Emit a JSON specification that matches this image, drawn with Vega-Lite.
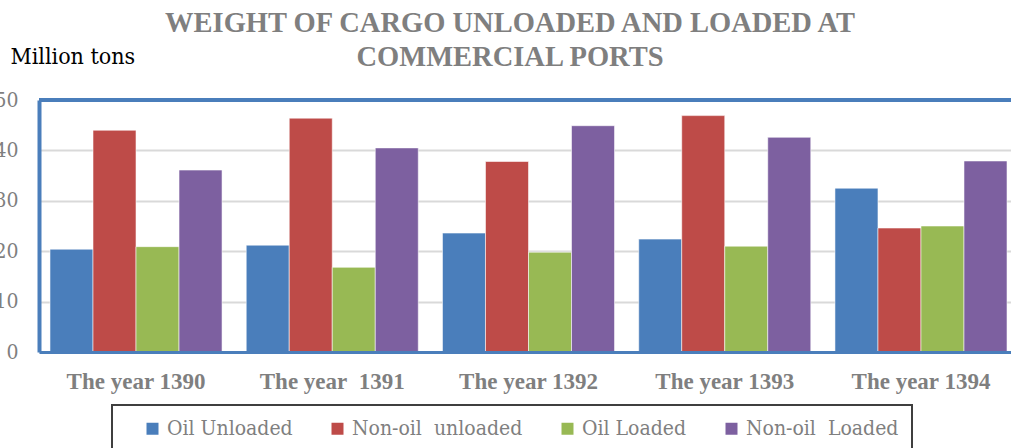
{
  "$schema": "https://vega.github.io/schema/vega-lite/v6.json",
  "autosize": {"type": "none"},
  "width": 972,
  "height": 252,
  "padding": {"left": 39, "top": 100, "right": 0, "bottom": 96},
  "background": "white",
  "title": {
    "text": ["WEIGHT OF CARGO UNLOADED AND LOADED AT", "COMMERCIAL PORTS"],
    "font": "Liberation Serif",
    "fontSize": 28.5,
    "fontWeight": "bold",
    "color": "#7f7f7f",
    "lineHeight": 34,
    "anchor": "middle",
    "dx": -15,
    "offset": -26.5
  },
  "config": {
    "view": {"stroke": null},
    "legend": {"strokeColor": "#3f3f3f", "strokeWidth": 2}
  },
  "data": {
    "values": [
      {"year": "The year 1390", "series": "Oil Unloaded", "value": 20.4},
      {"year": "The year 1390", "series": "Non-oil\u00a0 unloaded", "value": 44.0},
      {"year": "The year 1390", "series": "Oil Loaded", "value": 20.9},
      {"year": "The year 1390", "series": "Non-oil\u00a0 Loaded", "value": 36.1},
      {"year": "The year\u00a0 1391", "series": "Oil Unloaded", "value": 21.2},
      {"year": "The year\u00a0 1391", "series": "Non-oil\u00a0 unloaded", "value": 46.4},
      {"year": "The year\u00a0 1391", "series": "Oil Loaded", "value": 16.8},
      {"year": "The year\u00a0 1391", "series": "Non-oil\u00a0 Loaded", "value": 40.5},
      {"year": "The year 1392", "series": "Oil Unloaded", "value": 23.6},
      {"year": "The year 1392", "series": "Non-oil\u00a0 unloaded", "value": 37.8},
      {"year": "The year 1392", "series": "Oil Loaded", "value": 19.8},
      {"year": "The year 1392", "series": "Non-oil\u00a0 Loaded", "value": 44.9},
      {"year": "The year 1393", "series": "Oil Unloaded", "value": 22.4},
      {"year": "The year 1393", "series": "Non-oil\u00a0 unloaded", "value": 46.9},
      {"year": "The year 1393", "series": "Oil Loaded", "value": 21.0},
      {"year": "The year 1393", "series": "Non-oil\u00a0 Loaded", "value": 42.6},
      {"year": "The year 1394", "series": "Oil Unloaded", "value": 32.5},
      {"year": "The year 1394", "series": "Non-oil\u00a0 unloaded", "value": 24.6},
      {"year": "The year 1394", "series": "Oil Loaded", "value": 25.0},
      {"year": "The year 1394", "series": "Non-oil\u00a0 Loaded", "value": 37.9}
    ]
  },
  "encoding": {
    "y": {
      "type": "quantitative",
      "scale": {"domain": [0, 50], "nice": false, "zero": true},
      "axis": {
        "values": [0, 10, 20, 30, 40, 50],
        "grid": true,
        "gridColor": "#d9d9d9",
        "gridWidth": 2,
        "domain": true,
        "domainColor": "#4a7ebb",
        "domainWidth": 4,
        "ticks": false,
        "labelFont": "DejaVu Serif Condensed",
        "labelFontSize": 21,
        "labelColor": "#7f7f7f",
        "labelPadding": 21,
        "title": "Million tons",
        "titleAngle": 0,
        "titleAlign": "left",
        "titleBaseline": "alphabetic",
        "titleX": -29,
        "titleY": -37,
        "titleFont": "DejaVu Serif Condensed",
        "titleFontSize": 23,
        "titleFontWeight": "normal",
        "titleColor": "#000000"
      }
    }
  },
  "layer": [
    {
      "mark": {"type": "bar", "stroke": "#ffffff", "strokeWidth": 1, "strokeOpacity": 0.55},
      "encoding": {
        "x": {
          "field": "year",
          "type": "nominal",
          "sort": null,
          "scale": {"range": [0, 979], "paddingInner": 0.1233, "paddingOuter": 0.056},
          "axis": {
            "title": null,
            "ticks": false,
            "labelAngle": 0,
            "labelFont": "Liberation Serif",
            "labelFontSize": 23,
            "labelFontWeight": "bold",
            "labelColor": "#7f7f7f",
            "labelPadding": 18,
            "domainColor": "#4a7ebb",
            "domainWidth": 3,
            "zindex": 1
          }
        },
        "xOffset": {
          "field": "series",
          "type": "nominal",
          "sort": ["Oil Unloaded", "Non-oil\u00a0 unloaded", "Oil Loaded", "Non-oil\u00a0 Loaded"],
          "scale": {"paddingInner": 0, "paddingOuter": 0}
        },
        "y": {"field": "value"},
        "color": {
          "field": "series",
          "type": "nominal",
          "scale": {
            "domain": ["Oil Unloaded", "Non-oil\u00a0 unloaded", "Oil Loaded", "Non-oil\u00a0 Loaded"],
            "range": ["#4a7ebb", "#be4b48", "#98b954", "#7d60a0"]
          },
          "legend": {
            "title": null,
            "orient": "none",
            "legendX": 73,
            "legendY": 305,
            "direction": "horizontal",
            "symbolType": "square",
            "symbolSize": 144,
            "symbolStrokeWidth": 0,
            "symbolOpacity": 1,
            "symbolOffset": 17,
            "labelFont": "DejaVu Serif Condensed",
            "labelFontSize": 21,
            "labelColor": "#7f7f7f",
            "labelOffset": 4,
            "labelLimit": 400,
            "columnPadding": 17,
            "padding": 13,
            "fillColor": "#ffffff"
          }
        }
      }
    },
    {
      "mark": {"type": "rule", "color": "#4a7ebb", "strokeWidth": 4},
      "encoding": {"y": {"datum": 50}}
    }
  ]
}
